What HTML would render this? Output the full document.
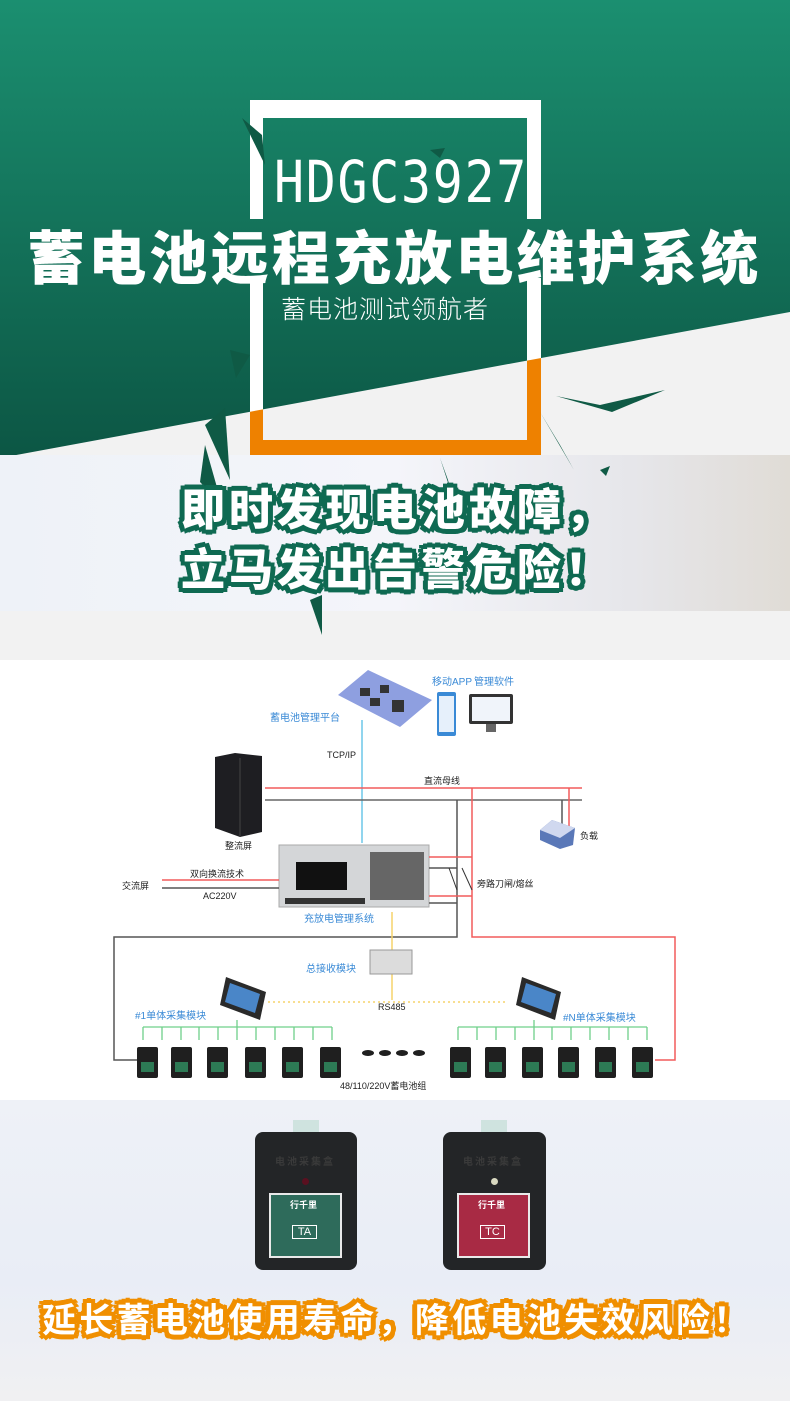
<!DOCTYPE html>
<html><head><meta charset="utf-8">
<style>
*{margin:0;padding:0;box-sizing:border-box}
body{width:790px;height:1401px;position:relative;overflow:hidden;background:#fff;font-family:"Liberation Sans","Noto Sans CJK SC",sans-serif}
.abs{position:absolute}
.t{position:absolute;white-space:nowrap;font-family:"Liberation Sans","Noto Sans CJK SC",sans-serif}
.gtxt{color:#fff;font-weight:900;font-size:44px;letter-spacing:4px;
text-shadow:3px 0 #0f6a52,-3px 0 #0f6a52,0 3px #0f6a52,0 -3px #0f6a52,2px 2px #0f6a52,-2px -2px #0f6a52,2px -2px #0f6a52,-2px 2px #0f6a52,4px 4px #0f6a52,5px 0 #0f6a52,-5px 0 #0f6a52,0 5px #0f6a52,0 -5px #0f6a52,4px -4px #0f6a52,-4px 4px #0f6a52,-4px -4px #0f6a52}
.otxt{color:#fff;font-weight:700;font-size:34px;letter-spacing:3.3px;
text-shadow:3px 0 #f08f00,-3px 0 #f08f00,0 3px #f08f00,0 -3px #f08f00,2px 2px #f08f00,-2px -2px #f08f00,2px -2px #f08f00,-2px 2px #f08f00,5px 0 #f08f00,-5px 0 #f08f00,0 5px #f08f00,0 -5px #f08f00,4px 4px #f08f00,-4px 4px #f08f00,4px -4px #f08f00,-4px -4px #f08f00}
.d{font-size:9px;color:#222}
.b{font-size:10px;color:#3a8ad6}
</style></head><body>
<svg class="abs" style="left:0;top:0" width="790" height="660">
<defs><linearGradient id="g" x1="0" y1="0" x2="0" y2="1"><stop offset="0" stop-color="#1b8f70"/><stop offset="1" stop-color="#0c5644"/></linearGradient>
<linearGradient id="ph" x1="0" y1="0" x2="1" y2="0"><stop offset="0" stop-color="#eef2f8"/><stop offset="0.5" stop-color="#f4f5fa"/><stop offset="0.8" stop-color="#e6e6ea"/><stop offset="1" stop-color="#e0dcd6"/></linearGradient>
<clipPath id="below"><polygon points="0,458 790,312 790,660 0,660"/></clipPath>
<clipPath id="gap"><path d="M0,0H790V219H0Z M0,278H790V660H0Z"/></clipPath></defs>
<rect width="790" height="660" fill="#f2f2f2"/>
<polygon points="0,0 790,0 790,312 0,458" fill="url(#g)"/>
<rect x="0" y="455" width="790" height="156" fill="url(#ph)"/>
<g clip-path="url(#gap)">
<path d="M250,100H541V455H250Z M263,118V440H527V118Z" fill="#fff" fill-rule="evenodd"/>
<path d="M250,100H541V455H250Z M263,118V440H527V118Z" fill="#ee8100" fill-rule="evenodd" clip-path="url(#below)"/>
</g>
<g fill="#0f5a45">
<polygon points="242,118 262,135 265,165"/>
<polygon points="430,150 445,148 440,158"/>
<polygon points="230,350 250,355 236,378"/>
<polygon points="556,396 600,405 665,390 612,412"/>
<polygon points="205,425 225,408 230,480"/>
<polygon points="200,482 205,445 222,505"/>
<polygon points="280,512 295,500 310,488"/>
<polygon points="540,412 560,445 574,470"/>
<polygon points="440,458 448,480 452,495"/>
<polygon points="310,600 322,595 322,635"/>
<polygon points="600,470 610,466 606,476"/>
</g>
</svg>
<div class="t" style="left:274px;top:150px;font-size:58px;line-height:64px;color:#fff;font-weight:300;letter-spacing:2px;transform:scaleX(0.86);transform-origin:left;font-family:'DejaVu Sans Mono','Liberation Mono',monospace">HDGC3927</div>
<div class="t" style="left:27px;top:212px;font-size:58px;color:#fff;font-weight:900;letter-spacing:3.2px">蓄电池远程充放电维护系统</div>
<div class="t" style="left:281px;top:290px;font-size:25px;color:#fff;font-weight:300;letter-spacing:1px">蓄电池测试领航者</div>
<div class="t gtxt" style="left:181px;top:474px">即时发现电池故障，</div>
<div class="t gtxt" style="left:181px;top:534px">立马发出告警危险！</div>

<svg class="abs" style="left:0;top:660px" width="790" height="440" viewBox="0 660 790 440">
<rect x="0" y="660" width="790" height="440" fill="#fff"/>
<polygon points="338,695 368,670 432,700 400,727" fill="#8e9fe0"/>
<g fill="#333"><rect x="360" y="688" width="10" height="8"/><rect x="380" y="685" width="9" height="8"/><rect x="370" y="698" width="10" height="8"/><rect x="392" y="700" width="12" height="12"/></g>
<rect x="437" y="692" width="19" height="44" rx="2" fill="#3a8ad6"/><rect x="439" y="696" width="15" height="36" fill="#e6f0fb"/>
<rect x="469" y="694" width="44" height="30" rx="2" fill="#333"/><rect x="472" y="697" width="38" height="24" fill="#f0f4fa"/><rect x="486" y="724" width="10" height="8" fill="#666"/>
<line x1="362" y1="720" x2="362" y2="843" stroke="#6cc7e8" stroke-width="1.5"/>
<polygon points="215,757 235,753 262,756 262,832 240,837 215,828" fill="#1e1e22"/>
<line x1="240" y1="758" x2="240" y2="836" stroke="#444"/>
<line x1="265" y1="788" x2="582" y2="788" stroke="#f25b5b" stroke-width="1.5"/>
<line x1="265" y1="800" x2="582" y2="800" stroke="#666" stroke-width="1.5"/>
<polyline points="472,788 472,937 675,937 675,1060 655,1060" fill="none" stroke="#f25b5b" stroke-width="1.5"/>
<polyline points="457,800 457,937 114,937 114,1060 137,1060" fill="none" stroke="#555" stroke-width="1.5"/>
<line x1="562" y1="800" x2="562" y2="830" stroke="#555" stroke-width="1.5"/>
<line x1="569" y1="788" x2="569" y2="826" stroke="#f25b5b" stroke-width="1.5"/>
<polygon points="540,830 552,820 575,828 573,845 560,849 540,840" fill="#5a78b8"/><polygon points="540,830 552,820 575,828 560,838" fill="#d0d8ef"/>
<rect x="279" y="845" width="150" height="62" fill="#d4d6d8" stroke="#aaa"/>
<rect x="296" y="862" width="51" height="28" fill="#111"/>
<rect x="370" y="852" width="54" height="48" fill="#666"/>
<rect x="285" y="898" width="80" height="6" fill="#333"/>
<line x1="429" y1="857" x2="472" y2="857" stroke="#f25b5b" stroke-width="1.5"/>
<line x1="429" y1="868" x2="457" y2="868" stroke="#555" stroke-width="1.5"/>
<line x1="429" y1="896" x2="472" y2="896" stroke="#f25b5b" stroke-width="1.5"/>
<line x1="429" y1="903" x2="457" y2="903" stroke="#555" stroke-width="1.5"/>
<line x1="449" y1="868" x2="457" y2="890" stroke="#333"/><line x1="462" y1="868" x2="472" y2="890" stroke="#333"/>
<line x1="162" y1="880" x2="279" y2="880" stroke="#f25b5b" stroke-width="1.5"/>
<line x1="162" y1="888" x2="279" y2="888" stroke="#555" stroke-width="1.5"/>
<line x1="392" y1="912" x2="392" y2="1000" stroke="#f5d36b" stroke-width="1.5"/>
<rect x="370" y="950" width="42" height="24" fill="#dcdcdc" stroke="#999"/>
<line x1="268" y1="1002" x2="507" y2="1002" stroke="#f5d36b" stroke-width="1.5" stroke-dasharray="2,3"/>
<polygon points="226,977 266,992 260,1020 220,1005" fill="#2a2a2a"/><polygon points="230,983 260,994 255,1013 225,1002" fill="#4a86c8"/>
<polygon points="522,977 561,992 555,1020 516,1005" fill="#2a2a2a"/><polygon points="526,983 556,994 551,1013 521,1002" fill="#4a86c8"/>
<g stroke="#6fd08a" stroke-width="1.3" fill="none">
<line x1="143" y1="1027" x2="332" y2="1027"/><line x1="237" y1="1020" x2="237" y2="1027"/>
<line x1="458" y1="1027" x2="647" y2="1027"/><line x1="534" y1="1020" x2="534" y2="1027"/>
<path d="M143,1027v13M162,1027v13M181,1027v13M199,1027v13M218,1027v13M237,1027v13M256,1027v13M275,1027v13M294,1027v13M313,1027v13M332,1027v13"/>
<path d="M458,1027v13M477,1027v13M496,1027v13M515,1027v13M534,1027v13M552,1027v13M571,1027v13M590,1027v13M609,1027v13M628,1027v13M647,1027v13"/>
</g>
<g fill="#1f1f1f">
<rect x="137" y="1047" width="21" height="31" rx="2"/><rect x="171" y="1047" width="21" height="31" rx="2"/><rect x="207" y="1047" width="21" height="31" rx="2"/><rect x="245" y="1047" width="21" height="31" rx="2"/><rect x="282" y="1047" width="21" height="31" rx="2"/><rect x="320" y="1047" width="21" height="31" rx="2"/>
<rect x="450" y="1047" width="21" height="31" rx="2"/><rect x="485" y="1047" width="21" height="31" rx="2"/><rect x="522" y="1047" width="21" height="31" rx="2"/><rect x="558" y="1047" width="21" height="31" rx="2"/><rect x="595" y="1047" width="21" height="31" rx="2"/><rect x="632" y="1047" width="21" height="31" rx="2"/>
<ellipse cx="368" cy="1053" rx="6" ry="3"/><ellipse cx="385" cy="1053" rx="6" ry="3"/><ellipse cx="402" cy="1053" rx="6" ry="3"/><ellipse cx="419" cy="1053" rx="6" ry="3"/>
</g>
<g fill="#2d7a55"><rect x="141" y="1062" width="13" height="10"/><rect x="175" y="1062" width="13" height="10"/><rect x="211" y="1062" width="13" height="10"/><rect x="249" y="1062" width="13" height="10"/><rect x="286" y="1062" width="13" height="10"/><rect x="324" y="1062" width="13" height="10"/>
<rect x="454" y="1062" width="13" height="10"/><rect x="489" y="1062" width="13" height="10"/><rect x="526" y="1062" width="13" height="10"/><rect x="562" y="1062" width="13" height="10"/><rect x="599" y="1062" width="13" height="10"/><rect x="636" y="1062" width="13" height="10"/></g>
</svg>
<div class="t b" style="left:432px;top:673px">移动APP</div>
<div class="t b" style="left:474px;top:673px">管理软件</div>
<div class="t b" style="left:270px;top:709px">蓄电池管理平台</div>
<div class="t d" style="left:327px;top:750px">TCP/IP</div>
<div class="t d" style="left:424px;top:774px">直流母线</div>
<div class="t d" style="left:225px;top:839px">整流屏</div>
<div class="t d" style="left:580px;top:829px">负载</div>
<div class="t d" style="left:190px;top:867px">双向换流技术</div>
<div class="t d" style="left:122px;top:879px">交流屏</div>
<div class="t d" style="left:203px;top:891px">AC220V</div>
<div class="t d" style="left:477px;top:877px">旁路刀闸/熔丝</div>
<div class="t b" style="left:304px;top:910px">充放电管理系统</div>
<div class="t b" style="left:306px;top:960px">总接收模块</div>
<div class="t d" style="left:378px;top:1002px">RS485</div>
<div class="t b" style="left:135px;top:1007px">#1单体采集模块</div>
<div class="t b" style="left:563px;top:1009px">#N单体采集模块</div>
<div class="t d" style="left:340px;top:1079px">48/110/220V蓄电池组</div>

<div class="abs" style="left:0;top:1100px;width:790px;height:301px;background:linear-gradient(#eef1f7,#e9edf6 60%,#f0f0f2)"></div>
<div class="abs" style="left:293px;top:1120px;width:26px;height:16px;background:#cfe3df"></div>
<div class="abs" style="left:255px;top:1132px;width:102px;height:138px;background:#232527;border-radius:8px"></div>
<div class="t" style="left:275px;top:1153px;font-size:10px;color:#3a3a3a;font-weight:bold;letter-spacing:2px">电池采集盒</div>
<div class="abs" style="left:302px;top:1178px;width:7px;height:7px;border-radius:50%;background:#5a1020"></div>
<div class="abs" style="left:269px;top:1193px;width:73px;height:65px;background:#2e6b5b;border:2px solid #e9e9e9"></div>
<div class="t" style="left:290px;top:1198px;font-size:9px;color:#fff;font-weight:bold">行千里</div>
<div class="abs" style="left:292px;top:1225px;width:25px;height:14px;border:1px solid #fff;color:#fff;font-size:11px;text-align:center;line-height:12px">TA</div>
<div class="abs" style="left:481px;top:1120px;width:26px;height:16px;background:#cfe3df"></div>
<div class="abs" style="left:443px;top:1132px;width:103px;height:138px;background:#232527;border-radius:8px"></div>
<div class="t" style="left:463px;top:1153px;font-size:10px;color:#3a3a3a;font-weight:bold;letter-spacing:2px">电池采集盒</div>
<div class="abs" style="left:491px;top:1178px;width:7px;height:7px;border-radius:50%;background:#d8d8c0"></div>
<div class="abs" style="left:457px;top:1193px;width:73px;height:65px;background:#a82a44;border:2px solid #e9e9e9"></div>
<div class="t" style="left:478px;top:1198px;font-size:9px;color:#fff;font-weight:bold">行千里</div>
<div class="abs" style="left:480px;top:1225px;width:25px;height:14px;border:1px solid #fff;color:#fff;font-size:11px;text-align:center;line-height:12px">TC</div>
<div class="t otxt" style="left:42px;top:1293px">延长蓄电池使用寿命，降低电池失效风险！</div>
</body></html>
